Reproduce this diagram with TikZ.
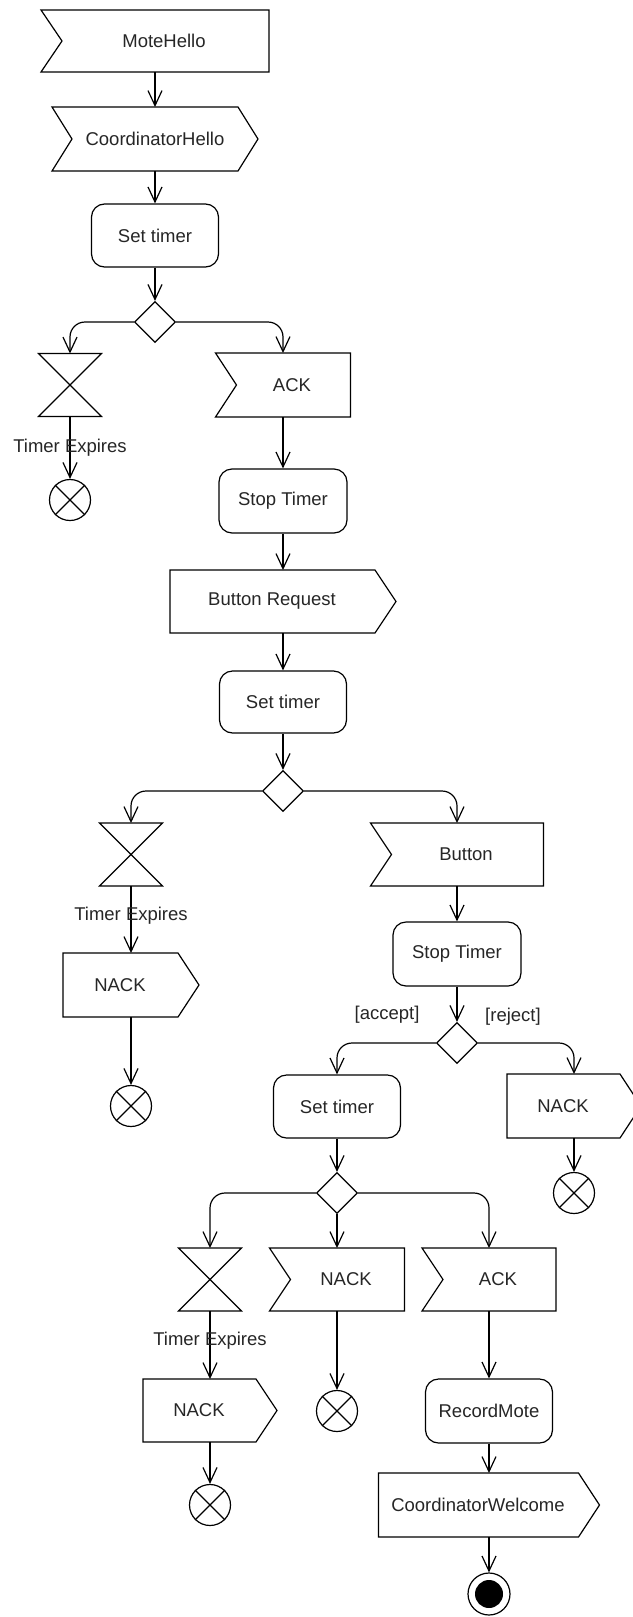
\documentclass[tikz,border=0pt]{standalone}
\usepackage{fontspec}
\setmainfont{Liberation Sans}
\usetikzlibrary{shapes.geometric,arrows.meta}

\begin{document}
\begin{tikzpicture}[x=1pt,y=-1pt,line width=1.2pt,
  every node/.style={font=\fontsize{18.5}{22}\selectfont, text=black!85, inner sep=2pt},
  action/.style={rectangle, draw, rounded corners=13pt, minimum width=127pt, minimum height=63pt},
  sigbox/.style={rectangle, outer sep=0pt, minimum height=63pt, minimum width=#1},
  recv/.style={sigbox=#1, execute at begin node={\hspace*{18pt}}},
  sendsig/.style={sigbox=#1, execute at end node={\hspace*{22pt}}},
  timer/.style={rectangle, outer sep=0pt, minimum width=63pt, minimum height=63pt},
  decision/.style={diamond, draw, minimum width=41pt, minimum height=41pt, inner sep=0pt},
  flowend/.style={circle, draw, minimum size=41pt, inner sep=0pt},
  actend/.style={circle, draw, minimum size=42pt, inner sep=0pt,
    path picture={\fill (path picture bounding box.center) circle (14pt);}},
  flow/.style={-{Straight Barb[length=15pt,width=14pt]}},
  branch/.style={flow, rounded corners=15pt}]

\fill[white] (0,0) rectangle (632,1617);
\useasboundingbox (0,0) rectangle (632,1617);

% main column
\node[recv=228, minimum height=62pt] (mote) at (155,41) {MoteHello};
\node[sigbox=206, minimum height=64pt] (chello) at (155,139) {CoordinatorHello};
\node[action] (set1) at (155,235.5) {Set timer};
\node[decision] (d1) at (155,322) {};
\node[timer] (tm1) at (70,385) {};
\node[recv=135, minimum height=64pt] (ack1) at (283,385) {ACK};
\node[flowend] (ff1) at (70,500) {};
\node[action, minimum width=128pt, minimum height=64pt] (stop1) at (283,501) {Stop Timer};
\node[sendsig=226] (breq) at (283,601.5) {Button Request};
\node[action, minimum height=62pt] (set2) at (283,702) {Set timer};
\node[decision] (d2) at (283,791) {};

% button branch
\node[timer] (tm2) at (131,854.5) {};
\node[recv=173] (btn) at (457,854.5) {Button};
\node[sendsig=136, minimum height=64pt] (nack1) at (131,985) {NACK};
\node[flowend] (ff2) at (131,1106) {};
\node[action, minimum width=128pt, minimum height=64pt] (stop2) at (457,954) {Stop Timer};
\node[decision] (d3) at (457,1043) {};
\node (acc) at (387,1015) {[accept]};
\node (rej) at (513,1017) {[reject]};
\node[action] (set3) at (337,1106.5) {Set timer};
\node[sendsig=134, minimum height=64pt] (nack2) at (574,1106) {NACK};
\node[flowend] (ff3) at (574,1193) {};
\node[decision] (d4) at (337,1193) {};

% last decision
\node[timer] (tm3) at (210,1279.5) {};
\node[recv=135] (nack3) at (337,1279.5) {NACK};
\node[recv=134] (ack3) at (489,1279.5) {ACK};
\node[sendsig=134] (nack4) at (210,1410.5) {NACK};
\node[flowend] (ff4) at (210,1505) {};
\node[flowend] (ff5) at (337,1411) {};
\node[action, minimum height=64pt] (rec) at (489,1411) {RecordMote};
\node[sendsig=221, minimum height=64pt] (cw) at (489,1505) {CoordinatorWelcome};
\node[actend] (fin) at (489,1594) {};

% signal outlines
\foreach \n in {mote,ack1,btn,nack3,ack3}
  \draw (\n.north west) -- (\n.north east) -- (\n.south east) -- (\n.south west)
        -- ([xshift=21pt]\n.west) -- cycle;
\foreach \n in {breq,nack1,nack2,nack4,cw}
  \draw (\n.north west) -- ([xshift=-21pt]\n.north east) -- (\n.east)
        -- ([xshift=-21pt]\n.south east) -- (\n.south west) -- cycle;
\draw (chello.north west) -- ([xshift=-20pt]chello.north east) -- (chello.east)
      -- ([xshift=-20pt]chello.south east) -- (chello.south west)
      -- ([xshift=20pt]chello.west) -- cycle;
% time events
\foreach \n in {tm1,tm2,tm3}
  \draw (\n.north west) -- (\n.north east) -- (\n.south west) -- (\n.south east) -- cycle;
% flow finals
\foreach \n in {ff1,ff2,ff3,ff4,ff5}
  \draw (\n.north west) -- (\n.south east) (\n.north east) -- (\n.south west);

% control flows
\draw[flow] (mote.south) -- (chello.north);
\draw[flow] (chello.south) -- (set1.north);
\draw[flow] (set1.south) -- (d1.north);
\draw[branch] (d1.west) -| (tm1.north);
\draw[branch] (d1.east) -| (ack1.north);
\draw[flow] (tm1.south) -- node{Timer Expires} (ff1.north);
\draw[flow] (ack1.south) -- (stop1.north);
\draw[flow] (stop1.south) -- (breq.north);
\draw[flow] (breq.south) -- (set2.north);
\draw[flow] (set2.south) -- (d2.north);
\draw[branch] (d2.west) -| (tm2.north);
\draw[branch] (d2.east) -| (btn.north);
\draw[flow] (tm2.south) -- node[pos=0.45]{Timer Expires} (nack1.north);
\draw[flow] (nack1.south) -- (ff2.north);
\draw[flow] (btn.south) -- (stop2.north);
\draw[flow] (stop2.south) -- (d3.north);
\draw[branch] (d3.west) -| (set3.north);
\draw[branch] (d3.east) -| (nack2.north);
\draw[flow] (nack2.south) -- (ff3.north);
\draw[flow] (set3.south) -- (d4.north);
\draw[branch] (d4.west) -| (tm3.north);
\draw[flow] (d4.south) -- (nack3.north);
\draw[branch] (d4.east) -| (ack3.north);
\draw[flow] (tm3.south) -- node[pos=0.43]{Timer Expires} (nack4.north);
\draw[flow] (nack4.south) -- (ff4.north);
\draw[flow] (nack3.south) -- (ff5.north);
\draw[flow] (ack3.south) -- (rec.north);
\draw[flow] (rec.south) -- (cw.north);
\draw[flow] (cw.south) -- (fin.north);
\end{tikzpicture}
\end{document}
